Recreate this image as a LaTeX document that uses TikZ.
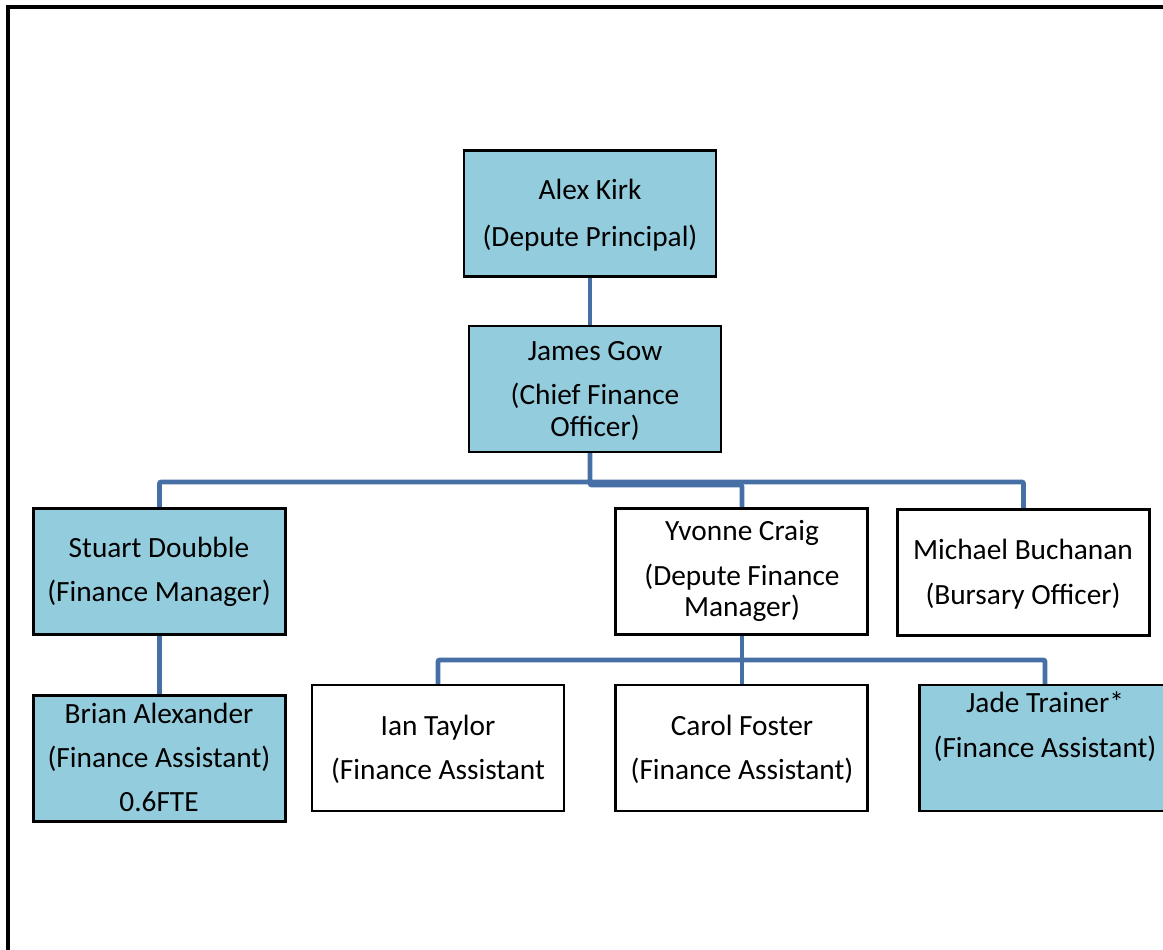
\documentclass[tikz,border=0pt]{standalone}
\usepackage{fontspec}
\setmainfont{Carlito}
\definecolor{boxfill}{HTML}{93CDDD}
\definecolor{linkblue}{HTML}{4670A5}
\begin{document}
\begin{tikzpicture}[x=0.75pt,y=-0.75pt,
  orgbox/.style={draw=black,line width=1.4pt,minimum width=188.25pt,minimum height=93.75pt,inner sep=0pt},
  filled/.style={orgbox,fill=boxfill},
  plain/.style={orgbox,fill=white},
  lbl/.style={font=\fontsize{22}{26}\selectfont,anchor=base,inner sep=0pt},
  link/.style={draw=linkblue,line width=3.7pt,rounded corners=1.5pt}]
\useasboundingbox (0,0) rectangle (1163,949);
\clip (0,0) rectangle (1163,949);
\fill[white] (0,0) rectangle (1163,949);
\draw[line width=2.3pt] (8,1000) -- (8,7) -- (1200,7);
% boxes
\node[filled] (alex) at (590,213.5) {};
\node[filled] (james) at (595,389) {};
\node[filled] (stuart) at (159.5,571.5) {};
\node[plain] (yvonne) at (741.5,571.5) {};
\node[plain] (michael) at (1023.5,572.5) {};
\node[filled] (brian) at (159.5,758.5) {};
\node[plain] (ian) at (438,748) {};
\node[plain] (carol) at (741.5,748) {};
\node[filled] (jade) at (1045.5,748) {};
% connectors
\coordinate (jbus) at (590,482);
\coordinate (ybus) at (742,660);
\draw[link] (alex.south) -- (alex.south |- james.north);
\draw[link] (jbus |- james.south) -- (jbus);
\draw[link] (stuart.north) -- (stuart.north |- jbus) -- (michael.north |- jbus) -- (michael.north);
\draw[link] (jbus |- james.south) -- (590,485) -- (742,485) -- (yvonne.north -| 742,0);
\draw[link] (stuart.south) -- (brian.north);
\draw[link] (ybus |- yvonne.south) -- (ybus);
\draw[link] (ian.north) -- (ian.north |- ybus) -- (1045,660) -- (1045,685);
\draw[link] (ybus) -- (742,685);
% redraw box outlines over connector ends
\foreach \n in {alex,james,stuart,yvonne,michael,brian,ian,carol,jade}
  \draw[line width=1.4pt] (\n.north west) rectangle (\n.south east);
% labels
\node[lbl] (t1) at (590,199) {Alex Kirk};
\node[lbl] (t2) at (590,246) {(Depute Principal)};
\node[lbl] (t3) at (595,360) {James Gow};
\node[lbl] (t4) at (595,404) {(Chief Finance};
\node[lbl] (t5) at (595,436) {Officer)};
\node[lbl] (t6) at (159,557) {Stuart Doubble};
\node[lbl] (t7) at (159,601) {(Finance Manager)};
\node[lbl] (t8) at (742,540) {Yvonne Craig};
\node[lbl] (t9) at (742,585) {(Depute Finance};
\node[lbl] (t10) at (742,616) {Manager)};
\node[lbl] (t11) at (1023,559) {Michael Buchanan};
\node[lbl] (t12) at (1023,604) {(Bursary Officer)};
\node[lbl] (t13) at (159,723) {Brian Alexander};
\node[lbl] (t14) at (159,767) {(Finance Assistant)};
\node[lbl] (t15) at (159,811) {0.6FTE};
\node[lbl] (t16) at (438,735) {Ian Taylor};
\node[lbl] (t17) at (438,779) {(Finance Assistant};
\node[lbl] (t18) at (742,735) {Carol Foster};
\node[lbl] (t19) at (742,779) {(Finance Assistant)};
\node[lbl] (t20) at (1045,712) {Jade Trainer*};
\node[lbl] (t21) at (1045,757) {(Finance Assistant)};
\end{tikzpicture}
\end{document}
